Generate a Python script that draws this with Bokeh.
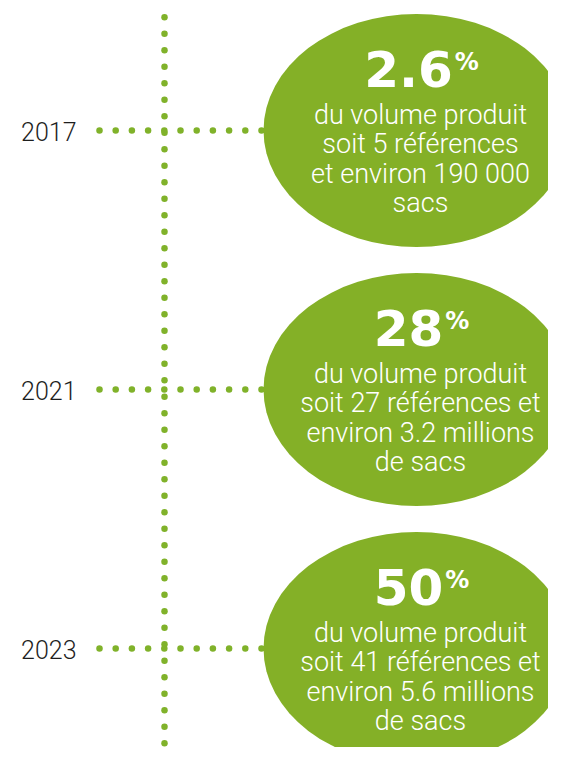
import numpy as np
from bokeh.plotting import figure
from bokeh.models import Range1d
from bokeh.core.properties import value
from bokeh.embed import file_html
from bokeh.resources import INLINE

# ---- data ----
years = ["2017", "2021", "2023"]
shares = ["2.6", "28", "50"]
line_1 = ["du volume produit", "du volume produit", "du volume produit"]
line_2 = ["soit 5 références", "soit 27 références et", "soit 41 références et"]
line_3 = ["et environ 190 000", "environ 3.2 millions", "environ 5.6 millions"]
line_4 = ["sacs", "de sacs", "de sacs"]

# ---- layout / style ----
GREEN = "#84b027"
DOT = "#80b22a"
W, H = 548, 747
ROW_Y = [130, 389, 648]
AXIS_X = 164
ELL_X, ELL_W, ELL_H = 416, 306, 233
CX = 421
BIG_FS, PCT_FS, BODY_FS, YEAR_FS = 50, 24, 27, 25
LINE_GAP = 29.3

def dy(fs):
    # vertical correction of rendered baseline (proportional to font size)
    return -0.35 * fs

p = figure(width=W, height=H, x_range=Range1d(0, W), y_range=Range1d(H, 0),
           output_backend="svg", toolbar_location=None, min_border=0,
           x_axis_type=None, y_axis_type=None, outline_line_color=None,
           background_fill_color="white", border_fill_color="white")
p.grid.visible = False

# vertical dotted axis
vy = np.arange(16.7, 770, 16.5)
p.scatter(x=[AXIS_X] * len(vy), y=vy, size=6.5, color=DOT, line_color=None)

# horizontal dotted connectors
hx = 99 + 16.2 * np.arange(11)
for ry in ROW_Y:
    p.scatter(x=hx, y=[ry] * len(hx), size=6.5, color=DOT, line_color=None)

# ellipses
p.ellipse(x=[ELL_X] * 3, y=ROW_Y, width=ELL_W, height=ELL_H, color=GREEN, line_color=None)

# year labels
p.text(x=[76] * 3, y=[r + 9.5 + dy(YEAR_FS) for r in ROW_Y], text=years,
       text_font=value("Roboto Light"), text_font_size=f"{YEAR_FS}px", text_color="#1e1e1e",
       text_align="right", text_baseline="alphabetic")

# big numbers + superscript %
EM = {".": 0.38}
def width_of(s, fs):
    return sum(EM.get(c, 0.696) for c in s) * fs

num_x, pct_x = [], []
for s in shares:
    wn = width_of(s, BIG_FS)
    wp = PCT_FS * 1.0
    left = CX - (wn + 2 + wp) / 2
    num_x.append(left)
    pct_x.append(left + wn + 2)

p.text(x=num_x, y=[r - 44 + dy(BIG_FS) for r in ROW_Y], text=shares,
       text_font=value("DejaVu Sans"), text_font_style="bold",
       text_font_size=f"{BIG_FS}px", text_color="white",
       text_align="left", text_baseline="alphabetic")
p.text(x=pct_x, y=[r - 60 + dy(PCT_FS) for r in ROW_Y], text=["%"] * 3,
       text_font=value("DejaVu Sans"), text_font_style="bold",
       text_font_size=f"{PCT_FS}px", text_color="white",
       text_align="left", text_baseline="alphabetic")

# body lines
for k, lines in enumerate([line_1, line_2, line_3, line_4]):
    p.text(x=[CX - 1] * 3, y=[r - 6 + LINE_GAP * k + dy(BODY_FS) for r in ROW_Y], text=lines,
           text_font=value("Roboto Light"), text_font_size=f"{BODY_FS}px",
           text_color="white", text_align="center", text_baseline="alphabetic")

open("out.html", "w").write(file_html(p, INLINE))
